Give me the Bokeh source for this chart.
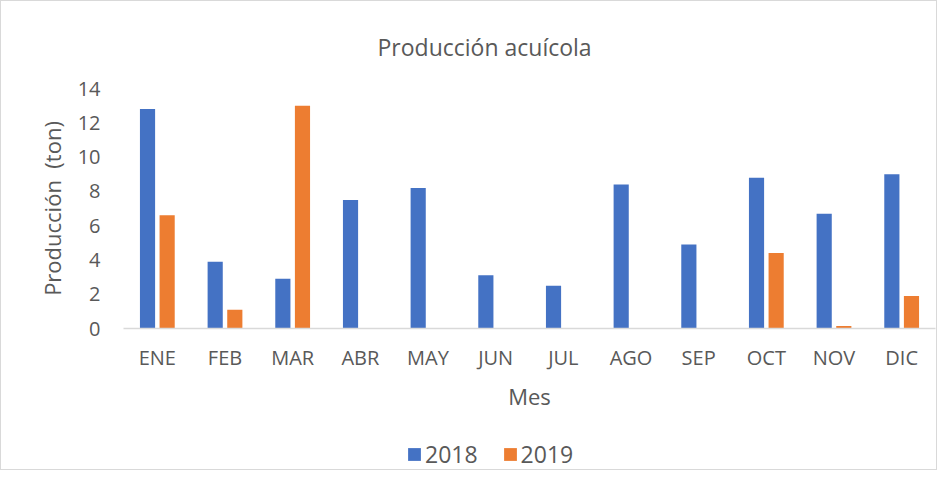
from bokeh.plotting import figure
from bokeh.layouts import column
from bokeh.models import ColumnDataSource, FactorRange, Range1d, Legend, LegendItem, FixedTicker
from bokeh.transform import dodge
from bokeh.embed import file_html
from bokeh.resources import INLINE

months = ["ENE", "FEB", "MAR", "ABR", "MAY", "JUN", "JUL", "AGO", "SEP", "OCT", "NOV", "DIC"]
prod_2018 = [12.8, 3.9, 2.9, 7.5, 8.2, 3.1, 2.5, 8.4, 4.9, 8.8, 6.7, 9.0]
prod_2019 = [6.6, 1.1, 13.0, 0, 0, 0, 0, 0, 0, 4.4, 0.15, 1.9]
y_ticks = [0, 2, 4, 6, 8, 10, 12, 14]
series = ["2018", "2019"]
colors = ["#4472C4", "#ED7D31"]

FONT = "Open Sans"
GREY = "#595959"

src = ColumnDataSource(dict(months=months, y2018=prod_2018, y2019=prod_2019))

p = figure(width=935, height=422, x_range=FactorRange(*months, range_padding=0),
           y_range=Range1d(0, 14), output_backend="svg", toolbar_location=None,
           min_border_left=122, min_border_right=1, min_border_top=87, min_border_bottom=95,
           title="Producción acuícola")
p.outline_line_color = None
p.background_fill_color = "white"
p.border_fill_color = "white"

p.title.text_font = FONT
p.title.text_font_size = "23px"
p.title.text_font_style = "normal"
p.title.text_color = GREY
p.title.align = "left"
p.title.offset = 254
p.title.standoff = 52

p.vbar(x=dodge("months", -0.145, range=p.x_range), top="y2018", width=0.224,
       source=src, fill_color=colors[0], line_color=None)
p.vbar(x=dodge("months", 0.145, range=p.x_range), top="y2019", width=0.224,
       source=src, fill_color=colors[1], line_color=None)

p.xgrid.grid_line_color = None
p.ygrid.grid_line_color = None

p.yaxis.ticker = FixedTicker(ticks=y_ticks)
p.yaxis.axis_line_color = None
p.yaxis.major_tick_line_color = None
p.yaxis.minor_tick_line_color = None
p.yaxis.major_tick_out = 0
p.yaxis.major_label_standoff = 23
p.yaxis.major_label_text_font = FONT
p.yaxis.major_label_text_font_size = "20px"
p.yaxis.major_label_text_color = GREY
p.yaxis.axis_label = "Producción\u00a0 (ton)"
p.yaxis.axis_label_text_font = FONT
p.yaxis.axis_label_text_font_size = "22px"
p.yaxis.axis_label_text_font_style = "normal"
p.yaxis.axis_label_text_color = GREY
p.yaxis.axis_label_standoff = 8

p.xaxis.axis_line_color = "#d9d9d9"
p.xaxis.axis_line_width = 1.5
p.xaxis.major_tick_line_color = None
p.xaxis.minor_tick_line_color = None
p.xaxis.major_tick_out = 0
p.xaxis.major_label_standoff = 15
p.xaxis.major_label_text_font = FONT
p.xaxis.major_label_text_font_size = "20px"
p.xaxis.major_label_text_color = GREY
p.xaxis.axis_label = "Mes"
p.xaxis.axis_label_text_font = FONT
p.xaxis.axis_label_text_font_size = "22px"
p.xaxis.axis_label_text_font_style = "normal"
p.xaxis.axis_label_text_color = GREY
p.xaxis.axis_label_standoff = 7

# legend strip below the chart (zero-height bars only provide the legend swatches)
lf = figure(width=935, height=46, x_range=Range1d(0, 1), y_range=Range1d(0, 1),
            x_axis_location=None, y_axis_location=None, min_border=0,
            output_backend="svg", toolbar_location=None)
lf.outline_line_color = None
lf.grid.visible = False
items = []
for name, col in zip(series, colors):
    rr = lf.vbar(x=[0.5], top=[0], bottom=[0], width=0.1, fill_color=col, line_color=None)
    items.append(LegendItem(label=name, renderers=[rr]))

legend = Legend(items=items, orientation="horizontal", location=(283, -1),
                padding=0, margin=0, spacing=24, label_standoff=3,
                glyph_width=16, glyph_height=16,
                border_line_color=None, background_fill_alpha=0,
                label_text_font=FONT, label_text_font_size="23px",
                label_text_color=GREY)
lf.add_layout(legend, "center")

layout = column(p, lf, spacing=0)
layout.styles = {"border": "1px solid #d9d9d9"}

open("out.html", "w").write(file_html(layout, INLINE))
